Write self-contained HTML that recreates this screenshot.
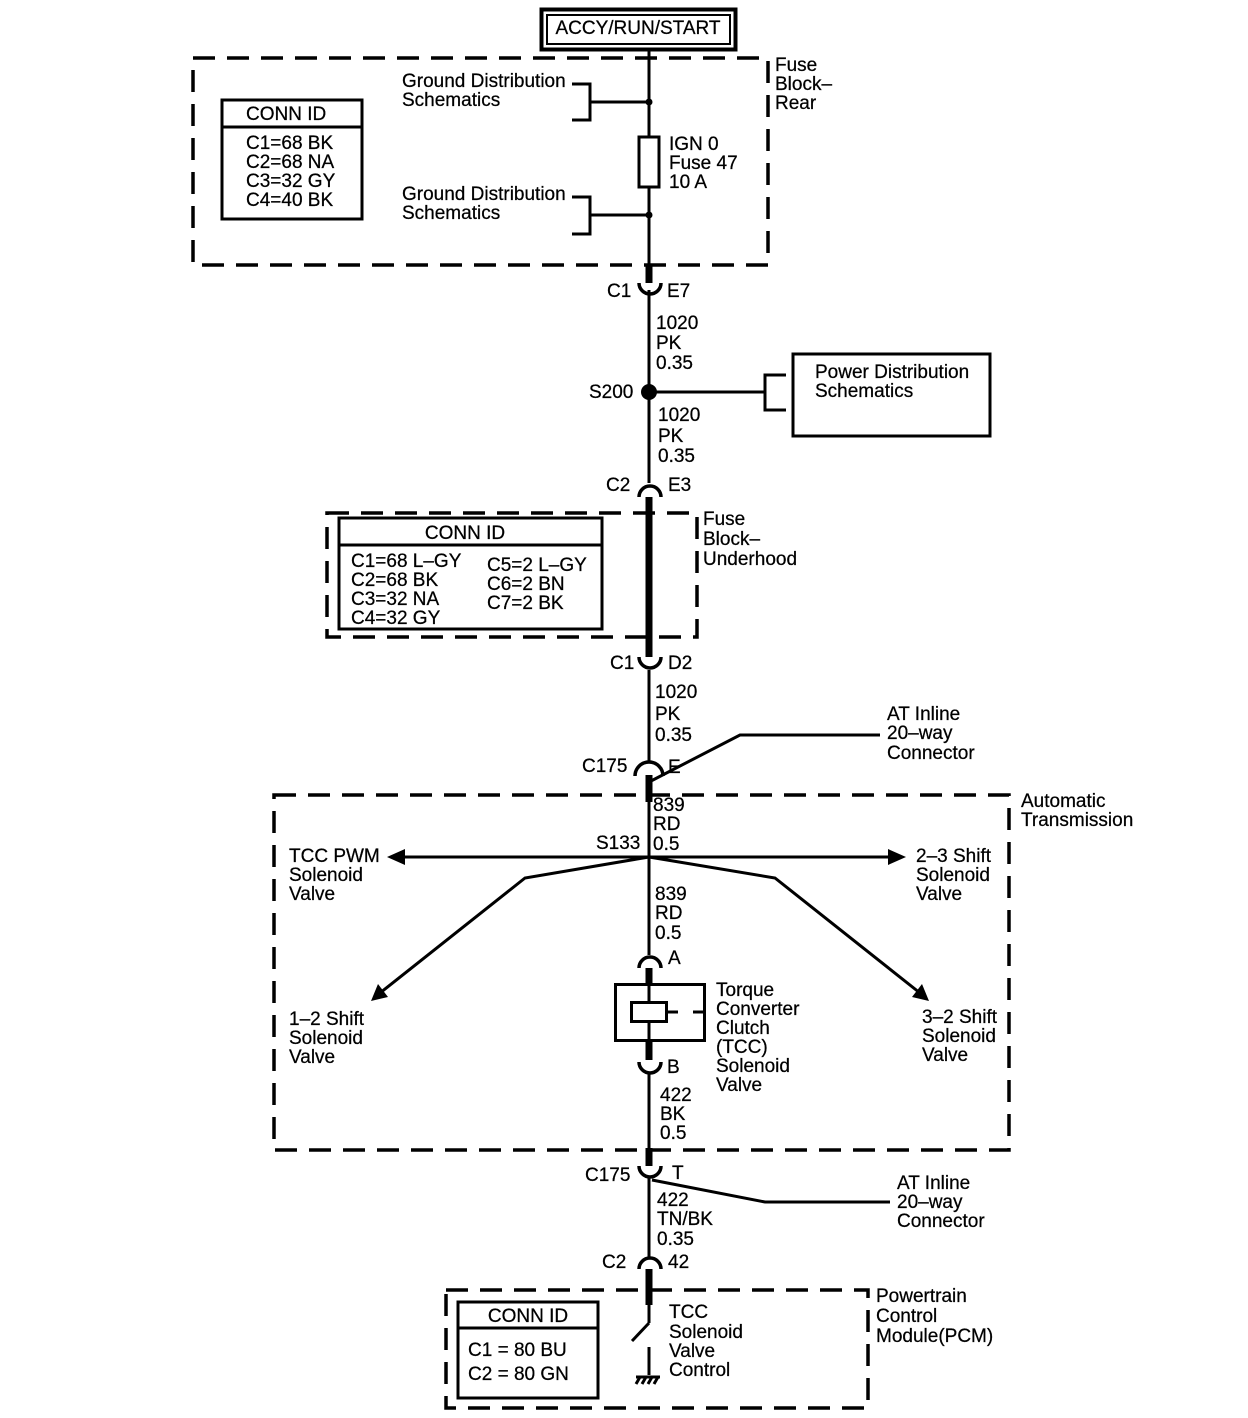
<!DOCTYPE html>
<html><head><meta charset="utf-8"><style>
html,body{margin:0;padding:0;background:#fff}
svg{display:block}
text{font-family:"Liberation Sans",Arial,sans-serif;font-size:19px;fill:#000;dominant-baseline:middle;stroke:#000;stroke-width:0.25}
</style></head><body>
<svg width="1248" height="1418" viewBox="0 0 1248 1418" xmlns="http://www.w3.org/2000/svg">
<g fill="none" stroke="#000">
<rect x="541.5" y="9.5" width="194" height="40" stroke-width="4"/>
<rect x="547" y="15" width="183" height="29" stroke-width="2"/>
<g stroke-width="3.5" stroke-dasharray="22,12">
<rect x="193" y="58" width="575" height="207"/>
<rect x="327" y="513" width="370" height="124"/>
<rect x="274" y="795" width="735" height="355"/>
<rect x="446" y="1290" width="422" height="118"/>
</g>
<g stroke-width="3">
<rect x="222" y="100" width="140" height="119"/>
<line x1="222" y1="127" x2="362" y2="127"/>
<rect x="339" y="518" width="263" height="111"/>
<line x1="339" y1="545" x2="602" y2="545"/>
<rect x="458" y="1302" width="140" height="96"/>
<line x1="458" y1="1328" x2="598" y2="1328"/>
<rect x="793" y="354" width="197" height="82"/>
</g>
<g stroke-width="3">
<line x1="649" y1="50" x2="649" y2="137"/>
<line x1="649" y1="187" x2="649" y2="265"/>
<rect x="639" y="137" width="20" height="50"/>
<line x1="649" y1="290" x2="649" y2="483"/>
<line x1="649" y1="670" x2="649" y2="763"/>
<line x1="649" y1="800" x2="649" y2="955"/>
<line x1="649" y1="1072" x2="649" y2="1160"/>
<line x1="649" y1="1178" x2="649" y2="1258"/>
<polyline points="572,84 590,84 590,120 572,120"/>
<line x1="590" y1="102" x2="649" y2="102"/>
<polyline points="572,197 590,197 590,234 572,234"/>
<line x1="590" y1="215" x2="649" y2="215"/>
<line x1="649" y1="392" x2="765" y2="392"/>
<polyline points="786,375 765,375 765,410 786,410"/>
<polyline points="651,781 740,735 880,735"/>
<polyline points="652,1180 765,1202 890,1202"/>
<line x1="400" y1="857" x2="893" y2="857"/>
<polyline points="649,857 525,878 380,993"/>
<polyline points="649,857 775,878 920,993"/>
<rect x="615.5" y="984.5" width="89" height="56"/>
<rect x="631.5" y="1002.5" width="35" height="19"/>
<line x1="649" y1="984" x2="649" y2="1002"/>
<line x1="649" y1="1022" x2="649" y2="1041"/>
<line x1="667" y1="1012" x2="678" y2="1012"/>
<line x1="693" y1="1012" x2="705" y2="1012"/>
<line x1="649" y1="1300" x2="649" y2="1323"/>
<line x1="649" y1="1323" x2="632" y2="1341"/>
<line x1="649" y1="1347" x2="649" y2="1375"/>
<line x1="636" y1="1377" x2="660" y2="1377"/>
<line x1="640" y1="1377" x2="636" y2="1384"/>
<line x1="646" y1="1377" x2="642" y2="1384"/>
<line x1="652" y1="1377" x2="648" y2="1384"/>
<line x1="658" y1="1377" x2="654" y2="1384"/>
</g>
<g stroke-width="7">
<line x1="649" y1="265" x2="649" y2="283"/>
<line x1="649" y1="497" x2="649" y2="657"/>
<line x1="649" y1="775" x2="649" y2="802"/>
<line x1="649" y1="968" x2="649" y2="986"/>
<line x1="649" y1="1040" x2="649" y2="1060"/>
<line x1="649" y1="1148" x2="649" y2="1166"/>
<line x1="649" y1="1269" x2="649" y2="1305"/>
</g>
<g stroke-width="3.5">
<path d="M639,283 A11,11 0 0 0 661,283"/>
<path d="M639,497 A11,11 0 0 1 661,497"/>
<path d="M639,657 A11,11 0 0 0 661,657"/>
<path d="M635,776 A14,14 0 0 1 663,776"/>
<path d="M639,968 A11,11 0 0 1 661,968"/>
<path d="M639,1062 A11,11 0 0 0 661,1062"/>
<path d="M639,1166 A11,11 0 0 0 661,1166"/>
<path d="M639,1269 A11,11 0 0 1 661,1269"/>
</g>
</g>
<circle cx="649" cy="102" r="3.5"/>
<circle cx="649" cy="215" r="3.5"/>
<circle cx="649" cy="392" r="8"/>
<polygon points="387,857 405,849 405,865"/>
<polygon points="906,857 888,849 888,865"/>
<polygon points="371,1001 378,984 388,997"/>
<polygon points="929,1001 912,997 922,984"/>
<text x="638" y="29" text-anchor="middle">ACCY/RUN/START</text>
<text x="246" y="115">CONN ID</text>
<text x="246" y="144">C1=68 BK</text>
<text x="246" y="163">C2=68 NA</text>
<text x="246" y="182">C3=32 GY</text>
<text x="246" y="201">C4=40 BK</text>
<text x="402" y="82">Ground Distribution</text>
<text x="402" y="101">Schematics</text>
<text x="402" y="195">Ground Distribution</text>
<text x="402" y="214">Schematics</text>
<text x="669" y="145">IGN 0</text>
<text x="669" y="164">Fuse 47</text>
<text x="669" y="183">10 A</text>
<text x="775" y="66">Fuse</text>
<text x="775" y="85">Block–</text>
<text x="775" y="104">Rear</text>
<text x="607" y="292">C1</text>
<text x="667" y="292">E7</text>
<text x="656" y="324">1020</text>
<text x="656" y="344">PK</text>
<text x="656" y="364">0.35</text>
<text x="589" y="393">S200</text>
<text x="815" y="373">Power Distribution</text>
<text x="815" y="392">Schematics</text>
<text x="658" y="416">1020</text>
<text x="658" y="437">PK</text>
<text x="658" y="457">0.35</text>
<text x="606" y="486">C2</text>
<text x="668" y="486">E3</text>
<text x="703" y="520">Fuse</text>
<text x="703" y="540">Block–</text>
<text x="703" y="560">Underhood</text>
<text x="465" y="534" text-anchor="middle">CONN ID</text>
<text x="351" y="562">C1=68 L–GY</text>
<text x="351" y="581">C2=68 BK</text>
<text x="351" y="600">C3=32 NA</text>
<text x="351" y="619">C4=32 GY</text>
<text x="487" y="566">C5=2 L–GY</text>
<text x="487" y="585">C6=2 BN</text>
<text x="487" y="604">C7=2 BK</text>
<text x="610" y="664">C1</text>
<text x="668" y="664">D2</text>
<text x="655" y="693">1020</text>
<text x="655" y="715">PK</text>
<text x="655" y="736">0.35</text>
<text x="887" y="715">AT Inline</text>
<text x="887" y="734">20–way</text>
<text x="887" y="754">Connector</text>
<text x="582" y="767">C175</text>
<text x="668" y="768">E</text>
<text x="1021" y="802">Automatic</text>
<text x="1021" y="821">Transmission</text>
<text x="653" y="806">839</text>
<text x="653" y="825">RD</text>
<text x="653" y="845">0.5</text>
<text x="596" y="844">S133</text>
<text x="289" y="857">TCC PWM</text>
<text x="289" y="876">Solenoid</text>
<text x="289" y="895">Valve</text>
<text x="916" y="857">2–3 Shift</text>
<text x="916" y="876">Solenoid</text>
<text x="916" y="895">Valve</text>
<text x="655" y="895">839</text>
<text x="655" y="914">RD</text>
<text x="655" y="934">0.5</text>
<text x="668" y="959">A</text>
<text x="289" y="1020">1–2 Shift</text>
<text x="289" y="1039">Solenoid</text>
<text x="289" y="1058">Valve</text>
<text x="922" y="1018">3–2 Shift</text>
<text x="922" y="1037">Solenoid</text>
<text x="922" y="1056">Valve</text>
<text x="716" y="991">Torque</text>
<text x="716" y="1010">Converter</text>
<text x="716" y="1029">Clutch</text>
<text x="716" y="1048">(TCC)</text>
<text x="716" y="1067">Solenoid</text>
<text x="716" y="1086">Valve</text>
<text x="667" y="1068">B</text>
<text x="660" y="1096">422</text>
<text x="660" y="1115">BK</text>
<text x="660" y="1134">0.5</text>
<text x="585" y="1176">C175</text>
<text x="672" y="1174">T</text>
<text x="897" y="1184">AT Inline</text>
<text x="897" y="1203">20–way</text>
<text x="897" y="1222">Connector</text>
<text x="657" y="1201">422</text>
<text x="657" y="1220">TN/BK</text>
<text x="657" y="1240">0.35</text>
<text x="602" y="1263">C2</text>
<text x="668" y="1263">42</text>
<text x="876" y="1297">Powertrain</text>
<text x="876" y="1317">Control</text>
<text x="876" y="1337">Module(PCM)</text>
<text x="528" y="1317" text-anchor="middle">CONN ID</text>
<text x="468" y="1351">C1 = 80 BU</text>
<text x="468" y="1375">C2 = 80 GN</text>
<text x="669" y="1313">TCC</text>
<text x="669" y="1333">Solenoid</text>
<text x="669" y="1352">Valve</text>
<text x="669" y="1371">Control</text>
</svg>
</body></html>
